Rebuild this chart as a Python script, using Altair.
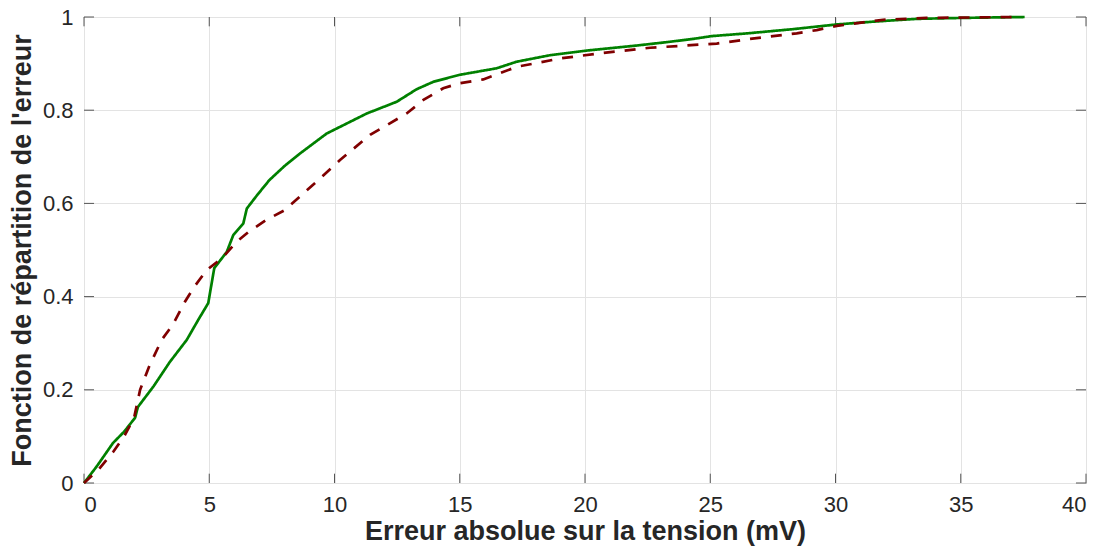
import altair as alt
import pandas as pd

# Solid green curve (cumulative distribution of the error)
green_x = [0, 0.5, 1.16, 1.6, 2.04, 2.15, 2.77, 3.43, 4.1, 4.56, 4.96, 5.2, 5.7, 5.96,
           6.36, 6.5, 6.9, 7.4, 8.0, 8.62, 9.69, 11.29, 12.48, 13.28, 13.95, 15.0,
           16.48, 17.27, 18.6, 20.07, 21.93, 23.26, 24.32, 25.06, 26.5, 28.32, 30.05,
           31.5, 33.24, 35.0, 37.55]
green_y = [0, 0.035, 0.086, 0.11, 0.14, 0.163, 0.207, 0.26, 0.307, 0.35, 0.386, 0.461,
           0.496, 0.532, 0.557, 0.589, 0.617, 0.65, 0.68, 0.707, 0.75, 0.793, 0.818,
           0.845, 0.861, 0.876, 0.89, 0.904, 0.918, 0.928, 0.938, 0.946, 0.953, 0.959,
           0.965, 0.974, 0.984, 0.99, 0.996, 0.998, 1.0]

# Dashed dark red curve
red_x = [0, 0.6, 1.17, 1.6, 2.0, 2.24, 2.6, 3.1, 3.55, 4.03, 4.4, 4.9, 5.5, 6.1, 6.6,
         7.29, 8.0, 8.6, 9.35, 10.22, 11.42, 12.88, 13.55, 14.34, 15.0, 15.94, 17.27,
         19.0, 20.6, 22.6, 25.26, 26.59, 28.45, 29.25, 30.05, 31.9, 33.64, 37.2]
red_y = [0, 0.03, 0.067, 0.1, 0.14, 0.2, 0.25, 0.307, 0.34, 0.389, 0.421, 0.457, 0.482,
         0.518, 0.54, 0.565, 0.585, 0.614, 0.65, 0.693, 0.747, 0.793, 0.822, 0.847,
         0.858, 0.866, 0.893, 0.911, 0.922, 0.934, 0.943, 0.953, 0.965, 0.972, 0.981,
         0.994, 0.998, 1.0]

series_names = ["solide", "pointillé"]
x_ticks = [0, 5, 10, 15, 20, 25, 30, 35, 40]
y_ticks = [0, 0.2, 0.4, 0.6, 0.8, 1]

df = pd.concat([
    pd.DataFrame({"x": green_x, "y": green_y, "serie": series_names[0], "o": range(len(green_x))}),
    pd.DataFrame({"x": red_x, "y": red_y, "serie": series_names[1], "o": range(len(red_x))}),
])

# inward tick marks on all four sides (MATLAB box style)
tlx = 0.02        # tick length along y (data units)
tly = 0.4         # tick length along x (data units)
rows = []
for t in x_ticks:
    rows.append({"x": t, "x2": t, "y": 0, "y2": tlx})
    rows.append({"x": t, "x2": t, "y": 1, "y2": 1 - tlx})
for t in y_ticks:
    rows.append({"x": 0, "x2": tly, "y": t, "y2": t})
    rows.append({"x": 40, "x2": 40 - tly, "y": t, "y2": t})
ticks_df = pd.DataFrame(rows)

FONT = "Liberation Sans"
xscale = alt.Scale(domain=[0, 40], nice=False, zero=False)
yscale = alt.Scale(domain=[0, 1], nice=False)

xaxis = alt.Axis(values=x_ticks, grid=True, ticks=False, domain=False, labelFontSize=22,
                 labelPadding=11, title="Erreur absolue sur la tension (mV)",
                 titleFontSize=27, titleFontWeight="bold", titlePadding=3,
                 labelColor="#262626", titleColor="#262626", gridColor="#e3e3e3",
                 labelFont=FONT, titleFont=FONT)
yaxis = alt.Axis(values=y_ticks, grid=True, ticks=False, domain=False, labelFontSize=22,
                 labelPadding=11, format="~g", title="Fonction de répartition de l'erreur",
                 titleFontSize=27, titleFontWeight="bold", titlePadding=6,
                 labelColor="#262626", titleColor="#262626", gridColor="#e3e3e3",
                 labelFont=FONT, titleFont=FONT)

lines = alt.Chart(df).mark_line(strokeWidth=2.7).encode(
    x=alt.X("x:Q", scale=xscale, axis=xaxis),
    y=alt.Y("y:Q", scale=yscale, axis=yaxis),
    color=alt.Color("serie:N", scale=alt.Scale(domain=series_names, range=["#008000", "#800000"]), legend=None),
    strokeDash=alt.StrokeDash("serie:N", scale=alt.Scale(domain=series_names, range=[[1, 0], [11, 10]]), legend=None),
    order="o:Q",
)

tick_marks = alt.Chart(ticks_df).mark_rule(color="#555555", strokeWidth=1).encode(
    x=alt.X("x:Q", scale=xscale), x2="x2:Q",
    y=alt.Y("y:Q", scale=yscale), y2="y2:Q",
)

chart = alt.layer(tick_marks, lines).properties(
    width=1002, height=466,
    autosize=alt.AutoSizeParams(type="none"),
    padding={"left": 76, "top": 9, "right": 12, "bottom": 67},
).configure_view(stroke="#555555", strokeWidth=1)

chart.save("out.html", embed_options={"renderer": "svg", "actions": False})
